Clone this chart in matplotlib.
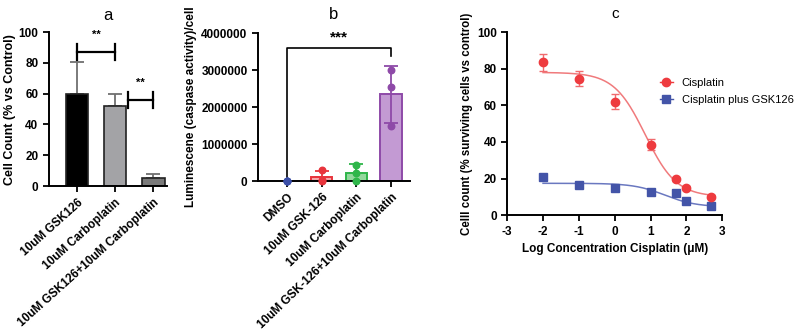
import matplotlib
matplotlib.use("Agg")
import matplotlib.pyplot as plt
import numpy as np

plt.rcParams['font.family'] = ['Liberation Sans', 'DejaVu Sans']
plt.rcParams['axes.unicode_minus'] = False

# ---- Panel a data ----
a_categories = ["10uM GSK126", "10uM Carboplatin", "10uM GSK126+10uM Carboplatin"]
a_values = [60, 52, 5.5]
a_err_up = [20.5, 7.5, 2.0]
a_colors = ["#000000", "#a3a3a6", "#7a7a7a"]
a_err_colors = ["#707070", "#707070", "#707070"]

# ---- Panel b data ----
b_categories = ["DMSO", "10uM GSK-126", "10uM Carboplatin", "10uM GSK-126+10uM Carboplatin"]
b_means = [0, 100000, 220000, 2350000]
b_err = [0, 180000, 230000, 770000]
b_points = [[0, 0, 0], [300000, 20000, 0], [430000, 230000, 0], [3000000, 2550000, 1500000]]
b_edge = ["#3b4fa8", "#e8343c", "#2fb64a", "#8e4aa8"]
b_fill = ["#3b4fa8", "#f4a7aa", "#93d89d", "#c39ad3"]

# ---- Panel c data ----
c_x = [-2, -1, 0, 1, 1.7, 2, 2.7]
cis_y = [83.5, 74.5, 62, 38.5, 19.5, 15, 10]
cis_err = [4.5, 4.2, 4.0, 3.0, 0.8, 0.8, 0.8]
gsk_y = [21, 16.5, 15, 12.5, 12, 7.5, 5]
# fitted 4PL parameters (top, bottom, logIC50, hill)
cis_fit = (78, 10, 0.85, 1.0)
gsk_fit = (17.4, 4.5, 1.4, 1.0)

fig = plt.figure(figsize=(8, 3.31), dpi=100)

tick_kw = dict(labelsize=8.5, width=1.3, length=4)

def style(ax):
    for s in ["top", "right"]:
        ax.spines[s].set_visible(False)
    for s in ["left", "bottom"]:
        ax.spines[s].set_linewidth(1.4)
    ax.tick_params(**tick_kw)
    for lab in ax.get_yticklabels():
        lab.set_fontweight("bold")

# ---------- Panel a ----------
axa = fig.add_axes([0.061, 0.438, 0.148, 0.465])
xa = np.arange(len(a_categories))
axa.bar(xa, a_values, width=0.6, color=a_colors, edgecolor="#222222", linewidth=1.2, zorder=2)
for i in range(len(xa)):
    axa.errorbar(xa[i], a_values[i], yerr=[[0], [a_err_up[i]]], color=a_err_colors[i],
                 capsize=5, elinewidth=1.3, capthick=1.3, zorder=1)
axa.set_ylim(0, 100)
axa.set_xlim(-0.74, 2.37)
axa.set_yticks([0, 20, 40, 60, 80, 100])
axa.set_xticks(xa)
axa.set_xticklabels(a_categories, rotation=42, ha="right", rotation_mode="anchor",
                    fontsize=7, fontweight="bold")
axa.set_ylabel("Cell Count (% vs Control)", fontsize=9, fontweight="bold", labelpad=2)
style(axa)
# significance brackets
axa.plot([0, 1], [87, 87], color="black", lw=1.6, clip_on=False)
axa.plot([0, 0], [82, 92], color="black", lw=1.6, clip_on=False)
axa.plot([1, 1], [82, 92], color="black", lw=1.6, clip_on=False)
axa.text(0.5, 98, "**", ha="center", va="center", fontsize=8, fontweight="bold")
axa.plot([1.35, 2], [56, 56], color="black", lw=1.6, clip_on=False)
axa.plot([1.35, 1.35], [51, 61], color="black", lw=1.6, clip_on=False)
axa.plot([2, 2], [51, 61], color="black", lw=1.6, clip_on=False)
axa.text(1.67, 67, "**", ha="center", va="center", fontsize=8, fontweight="bold")
axa.set_title("a", fontsize=12, pad=9)

# ---------- Panel b ----------
axb = fig.add_axes([0.3225, 0.453, 0.19, 0.447])
xb = np.arange(len(b_categories))
for i in range(len(xb)):
    if b_means[i] > 0:
        axb.bar(xb[i], b_means[i], width=0.62, color=b_fill[i], edgecolor=b_edge[i],
                linewidth=1.4, zorder=2)
        lower = b_err[i] if i == 3 else 0
        axb.errorbar(xb[i], b_means[i], yerr=[[lower], [b_err[i]]], color=b_edge[i],
                     capsize=5, elinewidth=1.3, capthick=1.3, zorder=3)
    axb.scatter([xb[i]] * len(b_points[i]), b_points[i], s=22, color=b_edge[i], zorder=4,
                clip_on=False)
axb.set_ylim(0, 4000000)
axb.set_xlim(-0.84, 3.55)
axb.set_yticks([0, 1000000, 2000000, 3000000, 4000000])
axb.set_yticklabels(["0", "1000000", "2000000", "3000000", "4000000"])
axb.set_xticks(xb)
axb.set_xticklabels(b_categories, rotation=44, ha="right", rotation_mode="anchor",
                    fontsize=7, fontweight="bold")
axb.set_ylabel("Luminescene (caspase activity)/cell", fontsize=8.5, fontweight="bold",
               labelpad=3)
style(axb)
axb.plot([0, 0, 3, 3], [120000, 3590000, 3590000, 3390000], color="black", lw=1.2,
         clip_on=False)
axb.text(1.5, 3880000, "***", ha="center", va="center", fontsize=11, fontweight="bold")
axb.set_title("b", fontsize=12, pad=10)

# ---------- Panel c ----------
axc = fig.add_axes([0.634, 0.350, 0.2688, 0.553])

def four_pl(x, p):
    top, bottom, ic50, hill = p
    return bottom + (top - bottom) / (1 + 10 ** (hill * (x - ic50)))

xs = np.linspace(min(c_x), max(c_x), 200)
red = "#ee3b3f"
blue = "#4354a8"
axc.plot(xs, four_pl(xs, cis_fit), color="#f07a7c", lw=1.1)
axc.plot(xs, four_pl(xs, gsk_fit), color="#6a78c0", lw=1.1)
axc.errorbar(c_x, cis_y, yerr=cis_err, fmt="o", color=red, ms=6, capsize=3,
             elinewidth=1.0, capthick=1.0, label="Cisplatin", ecolor="#f06a6d")
axc.plot(c_x, gsk_y, "s", color=blue, ms=6, label="Cisplatin plus GSK126")
axc.set_xlim(-3, 3)
axc.set_ylim(0, 100)
axc.set_xticks([-3, -2, -1, 0, 1, 2, 3])
axc.set_yticks([0, 20, 40, 60, 80, 100])
style(axc)
for lab in axc.get_xticklabels():
    lab.set_fontweight("bold")
axc.set_xlabel("Log Concentration Cisplatin (μM)", fontsize=8.5, fontweight="bold")
axc.set_ylabel("Celll count (% surviving cells vs control)", fontsize=8.3, fontweight="bold",
               labelpad=3)
axc.set_title("c", fontsize=11, pad=10)
h1 = plt.Line2D([], [], marker="o", color=red, ms=6, lw=1.0, markerfacecolor=red)
h2 = plt.Line2D([], [], marker="s", color=blue, ms=6, lw=1.0)
fig.legend([h1, h2], ["Cisplatin", "Cisplatin plus GSK126"], loc="upper left",
           bbox_to_anchor=(0.812, 0.795), frameon=False, fontsize=8, handlelength=1.2,
           handletextpad=0.8, labelspacing=0.65)

fig.savefig("out.png", dpi=100)
